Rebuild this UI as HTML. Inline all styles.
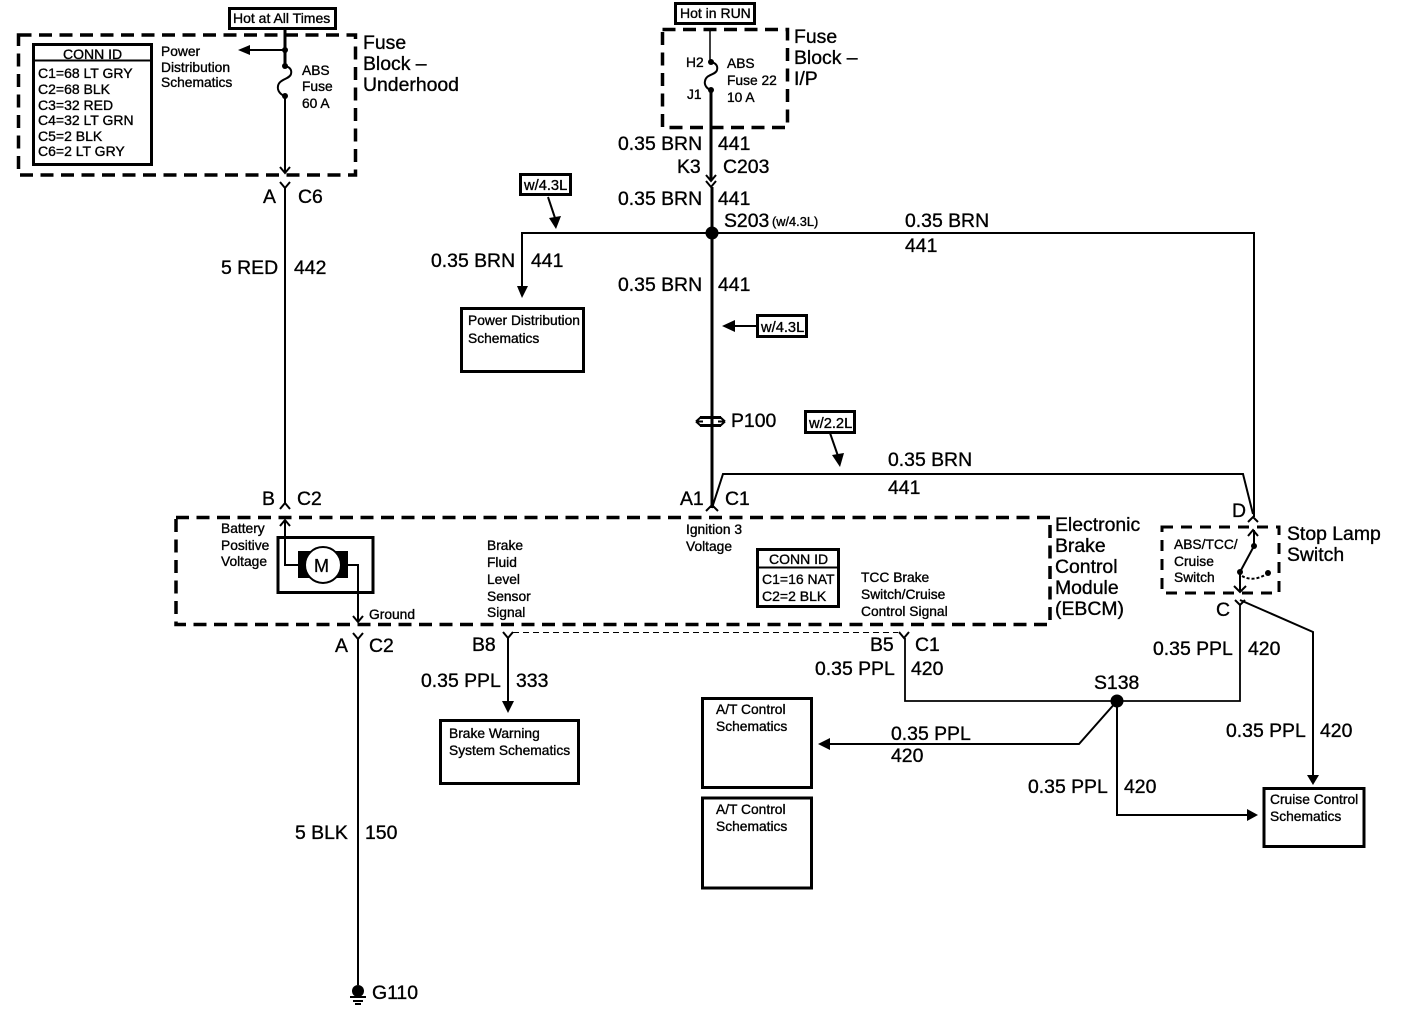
<!DOCTYPE html>
<html><head><meta charset="utf-8"><style>
html,body{margin:0;padding:0;background:#fff}
svg{display:block}
text{font-family:"Liberation Sans",sans-serif;fill:#000;stroke:#000;stroke-width:.35}
.l{font-size:19.4px}
.s{font-size:13.8px}
.m{font-size:14px}
.h{font-size:14.7px}
.x{font-size:12.8px}
.w{fill:none;stroke:#000}
.d{fill:none;stroke:#000;stroke-width:3.5;stroke-dasharray:13 7.5}
.b{fill:#fff;stroke:#000;stroke-width:3}
</style></head><body>
<svg width="1408" height="1012" viewBox="0 0 1408 1012" xmlns="http://www.w3.org/2000/svg">
<rect width="1408" height="1012" fill="#fff"/>

<!-- dashed blocks -->
<rect class="d" x="18.500" y="35" width="337" height="140"/>
<rect class="d" x="662.500" y="29.500" width="125" height="98"/>
<rect class="d" x="176" y="517.500" width="874" height="107"/>
<rect class="d" x="1162" y="527" width="117" height="66" style="stroke-width:3;stroke-dasharray:11 8"/>

<!-- motor box under wires -->
<rect class="b" x="278" y="537.500" width="95" height="55"/>

<!-- wires -->
<g class="w">
<path d="M285 30V66" stroke-width="3"/>
<path d="M285 50H248" stroke-width="2"/>
<path d="M285 66c5 1 7 4 6 8c-1 5-12 5-13 12c-1 5 3 9 7 10" stroke-width="2"/>
<path d="M285 96V172" stroke-width="2"/>
<path d="M280 167L285 173L290 167" stroke-width="2"/>
<path d="M280 182L285 188L290 182M285 188V503" stroke-width="2"/>
<path d="M280 509L285 503L290 509" stroke-width="2"/>
<path d="M280 526L285 520L290 526" stroke-width="2"/>
<path d="M285 520V565H300" stroke-width="2"/>
<path d="M346 565H358V621" stroke-width="2"/>
<path d="M353 616L358 622L363 616" stroke-width="2"/>
<path d="M353 633L358 639L363 633M358 639V985" stroke-width="2"/>
<!-- IP fuse -->
<path d="M710 29V60" stroke-width="1.500"/>
<path d="M711 62c5 1 7 4 6 8c-1 5-11 4-12 11c-1 4 2 8 6 9" stroke-width="2"/>
<path d="M711 89V181" stroke-width="3"/>
<path d="M706 175L711 181L716 175" stroke-width="2"/>
<path d="M706 181L711 187L716 181" stroke-width="2"/>
<path d="M712 187V508" stroke-width="3"/>
<path d="M706 511L712 505L718 511" stroke-width="2"/>
<path d="M712 508L723 474H1243L1253 514" stroke-width="2"/>
<path d="M522 286V233H1254V517" stroke-width="2"/>
<path d="M548 197L555 218" stroke-width="2"/>
<path d="M758 326H735" stroke-width="2"/>
<path d="M830 433L838 456" stroke-width="2"/>
<path d="M1248 522L1253 517L1258 522" stroke-width="2"/>
<!-- stop lamp switch -->
<path d="M1248 536L1253 530L1258 536" stroke-width="2"/>
<path d="M1254 530V546L1240 572V591" stroke-width="2"/>
<path d="M1234 586L1240 592L1246 586" stroke-width="2"/>
<path d="M1242 576c7 4 16 4 26-3" stroke-width="2" stroke-dasharray="3 2"/>
<path d="M1235 600L1240 605L1245 600" stroke-width="2"/>
<path d="M1240 605V701H905V638" stroke-width="1.800"/>
<path d="M1240 600L1313 632V775" stroke-width="2"/>
<path d="M899 632L904 638L909 632" stroke-width="2"/>
<path d="M503 632L508 638L513 632" stroke-width="2"/>
<path d="M508 638V702" stroke-width="2"/>
<path d="M513 632.500H898" stroke-width="1" stroke-dasharray="6 4"/>
<path d="M1117 701L1079 744H828" stroke-width="2"/>
<path d="M1117 701V815H1247" stroke-width="2"/>
<!-- P100 -->
<path d="M700 417.500H721M700 425.500H721" stroke-width="3"/>
<path d="M696 421.500L701 417M725 421.500L720 417M696 421.500L701 426M725 421.500L720 426" stroke-width="2"/>
<path d="M696 421.500H703M718 421.500H725" stroke-width="2"/>
<!-- ground -->
<path d="M350 997H366" stroke-width="2"/>
<path d="M353 1001H363" stroke-width="2"/>
<path d="M355 1004H361" stroke-width="2"/>
</g>

<!-- arrowheads -->
<g fill="#000">
<path d="M238 50L250 45V55Z"/>
<path d="M517 286H528L522 298Z"/>
<path d="M549 218L561 216L556 229Z"/>
<path d="M722 326L735 320V332Z"/>
<path d="M832 455L844 453L840 467Z"/>
<path d="M502 701H514L508 713Z"/>
<path d="M818 744L830 738V750Z"/>
<path d="M1307 775H1319L1313 785Z"/>
<path d="M1247 809V821L1258 815Z"/>
<!-- dots -->
<circle cx="285" cy="50" r="3"/>
<circle cx="285" cy="66" r="3"/>
<circle cx="285" cy="96" r="3"/>
<circle cx="711" cy="62" r="3"/>
<circle cx="711" cy="90" r="3"/>
<circle cx="712" cy="233" r="6.500"/>
<circle cx="1117" cy="701" r="6.500"/>
<circle cx="1254" cy="546" r="3"/>
<circle cx="1240" cy="572" r="3"/>
<circle cx="1268" cy="573" r="3"/>
<circle cx="358" cy="991" r="6"/>
</g>

<!-- boxes -->
<rect class="b" x="33.500" y="44.500" width="118" height="120"/>
<path d="M33 60.500H152" stroke="#000" stroke-width="2"/>
<rect class="b" x="229.500" y="8.500" width="106" height="20"/>
<rect class="b" x="675.500" y="3.500" width="79" height="20"/>
<rect class="b" x="520.500" y="174.500" width="50" height="20"/>
<rect class="b" x="757.500" y="315.500" width="49" height="21"/>
<rect class="b" x="805.500" y="411.500" width="49" height="21"/>
<rect class="b" x="461.500" y="308.500" width="122" height="63"/>
<rect class="b" x="440.500" y="720.500" width="138" height="63"/>
<rect class="b" x="702.500" y="698.500" width="109" height="89"/>
<rect class="b" x="702.500" y="798" width="109" height="90"/>
<rect class="b" x="1264" y="788.500" width="100" height="58"/>
<rect class="b" x="757.500" y="549.500" width="81" height="57"/>
<path d="M757 567.500H839" stroke="#000" stroke-width="2"/>
<path d="M298 551H348V578H298Z" fill="#000"/>
<circle cx="323" cy="565" r="18" fill="#fff" stroke="#000" stroke-width="2"/>

<!-- small text -->
<g class="s">
<text class="m" x="233" y="23">Hot at All Times</text>
<text class="m" x="680" y="18">Hot in RUN</text>
<text class="m" x="63" y="59">CONN ID</text>
<text class="m" x="38" y="78">C1=68 LT GRY</text>
<text class="m" x="38" y="94">C2=68 BLK</text>
<text class="m" x="38" y="110">C3=32 RED</text>
<text class="m" x="38" y="125">C4=32 LT GRN</text>
<text class="m" x="38" y="141">C5=2 BLK</text>
<text class="m" x="38" y="156">C6=2 LT GRY</text>
<text x="161" y="56">Power</text>
<text x="161" y="72">Distribution</text>
<text x="161" y="87">Schematics</text>
<text x="302" y="75">ABS</text>
<text x="302" y="91">Fuse</text>
<text x="302" y="108">60 A</text>
<text x="686" y="67">H2</text>
<text x="687" y="99">J1</text>
<text x="727" y="68">ABS</text>
<text x="727" y="85">Fuse 22</text>
<text x="727" y="102">10 A</text>
<text x="468" y="325">Power Distribution</text>
<text x="468" y="343">Schematics</text>
<text x="221" y="533">Battery</text>
<text x="221" y="550">Positive</text>
<text x="221" y="566">Voltage</text>
<text x="369" y="619">Ground</text>
<text x="487" y="550">Brake</text>
<text x="487" y="567">Fluid</text>
<text x="487" y="584">Level</text>
<text x="487" y="601">Sensor</text>
<text x="487" y="617">Signal</text>
<text x="686" y="534">Ignition 3</text>
<text x="686" y="551">Voltage</text>
<text class="m" x="769" y="564">CONN ID</text>
<text class="m" x="762" y="584">C1=16 NAT</text>
<text class="m" x="762" y="601">C2=2 BLK</text>
<text x="861" y="582">TCC Brake</text>
<text x="861" y="599">Switch/Cruise</text>
<text x="861" y="616">Control Signal</text>
<text x="1174" y="549">ABS/TCC/</text>
<text x="1174" y="566">Cruise</text>
<text x="1174" y="582">Switch</text>
<text x="449" y="738">Brake Warning</text>
<text x="449" y="755">System Schematics</text>
<text x="716" y="714">A/T Control</text>
<text x="716" y="731">Schematics</text>
<text x="716" y="814">A/T Control</text>
<text x="716" y="831">Schematics</text>
<text x="1270" y="804">Cruise Control</text>
<text x="1270" y="821">Schematics</text>
<text class="h" x="524" y="190">w/4.3L</text>
<text class="h" x="761" y="332">w/4.3L</text>
<text class="h" x="809" y="428">w/2.2L</text>
</g>
<text class="x" x="772" y="226">(w/4.3L)</text>
<text x="314" y="572" style="font-size:18px">M</text>

<!-- large text -->
<g class="l" transform="translate(0,1)">
<text x="363" y="48">Fuse</text>
<text x="363" y="69">Block –</text>
<text x="363" y="90">Underhood</text>
<text x="794" y="42">Fuse</text>
<text x="794" y="63">Block –</text>
<text x="794" y="84">I/P</text>
<text x="263" y="202">A</text>
<text x="298" y="202">C6</text>
<text x="221" y="273">5 RED</text>
<text x="294" y="273">442</text>
<text x="618" y="149">0.35 BRN</text>
<text x="718" y="149">441</text>
<text x="677" y="172">K3</text>
<text x="723" y="172">C203</text>
<text x="618" y="204">0.35 BRN</text>
<text x="718" y="204">441</text>
<text x="724" y="226">S203</text>
<text x="905" y="226">0.35 BRN</text>
<text x="905" y="251">441</text>
<text x="431" y="266">0.35 BRN</text>
<text x="531" y="266">441</text>
<text x="618" y="290">0.35 BRN</text>
<text x="718" y="290">441</text>
<text x="731" y="426">P100</text>
<text x="888" y="465">0.35 BRN</text>
<text x="888" y="493">441</text>
<text x="262" y="504">B</text>
<text x="297" y="504">C2</text>
<text x="680" y="504">A1</text>
<text x="725" y="504">C1</text>
<text x="1055" y="530">Electronic</text>
<text x="1055" y="551">Brake</text>
<text x="1055" y="572">Control</text>
<text x="1055" y="593">Module</text>
<text x="1055" y="614">(EBCM)</text>
<text x="1232" y="516">D</text>
<text x="1287" y="539">Stop Lamp</text>
<text x="1287" y="560">Switch</text>
<text x="1216" y="615">C</text>
<text x="335" y="651">A</text>
<text x="369" y="651">C2</text>
<text x="472" y="650">B8</text>
<text x="870" y="650">B5</text>
<text x="915" y="650">C1</text>
<text x="815" y="674">0.35 PPL</text>
<text x="911" y="674">420</text>
<text x="1153" y="654">0.35 PPL</text>
<text x="1248" y="654">420</text>
<text x="1094" y="688">S138</text>
<text x="421" y="686">0.35 PPL</text>
<text x="516" y="686">333</text>
<text x="891" y="739">0.35 PPL</text>
<text x="891" y="761">420</text>
<text x="1226" y="736">0.35 PPL</text>
<text x="1320" y="736">420</text>
<text x="1028" y="792">0.35 PPL</text>
<text x="1124" y="792">420</text>
<text x="295" y="838">5 BLK</text>
<text x="365" y="838">150</text>
<text x="372" y="998">G110</text>
</g>
</svg>
</body></html>
